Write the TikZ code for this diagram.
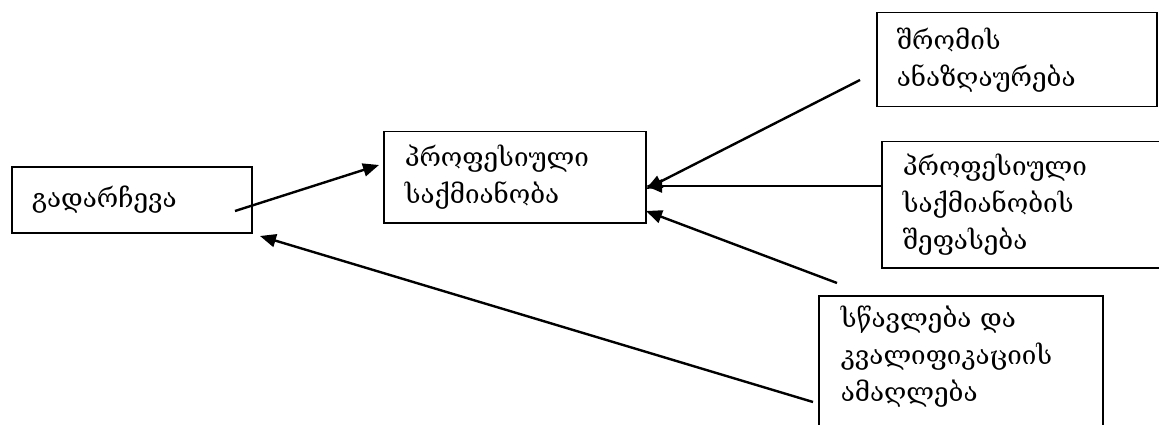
\documentclass[tikz,border=0pt]{standalone}
\usepackage{fontspec}
\setmainfont{DejaVu Serif}
\usetikzlibrary{arrows.meta}
\tikzset{
  box/.style={draw=black, line width=1.5pt, anchor=north west, align=left, inner ysep=0pt},
  arr/.style={line width=2.4pt, -{Triangle[length=16pt,width=13pt]}},
  geo/.style={font=\fontsize{26}{37}\selectfont}
}
\begin{document}
\begin{tikzpicture}[x=1pt,y=-1pt]
\useasboundingbox (0,0) rectangle (1159,425);
\node[box, geo, minimum width=237pt, minimum height=66pt, text width=200pt, inner xsep=20pt] (b1) at (11,166) {გადარჩევა};
\node[box, geo, minimum width=261pt, minimum height=91pt, text width=220pt, inner xsep=21pt] (b2) at (383,131) {პროფესიული\\საქმიანობა};
\node[box, geo, minimum width=276pt, minimum height=94pt, text width=240pt, inner xsep=20pt] (b3) at (876,12) {შრომის\\ანაზღაურება};
\node[box, geo, minimum width=276pt, minimum height=126pt, text width=240pt, inner xsep=21pt] (b4) at (881,141) {პროფესიული\\საქმიანობის\\შეფასება};
\node[box, geo, text width=240pt, inner xsep=22pt, inner ysep=10pt] (b5) at (818,295) {\parbox[t][150pt][t]{240pt}{სწავლება და\\კვალიფიკაციის\\ამაღლება}};
\coordinate (a1s) at (235,211);
\coordinate (a1e) at (379,165);
\coordinate (a2s) at (860,80);
\coordinate (a2e) at (646,189);
\coordinate (a3s) at (881,186);
\coordinate (a3e) at (646,186);
\coordinate (a4s) at (837,283);
\coordinate (a4e) at (646,211);
\coordinate (a5s) at (813,402);
\coordinate (a5e) at (260,236);
\draw[arr] (a1s) -- (a1e);
\draw[arr] (a2s) -- (a2e);
\draw[arr] (a3s) -- (a3e);
\draw[arr] (a4s) -- (a4e);
\draw[arr] (a5s) -- (a5e);
\end{tikzpicture}
\end{document}
